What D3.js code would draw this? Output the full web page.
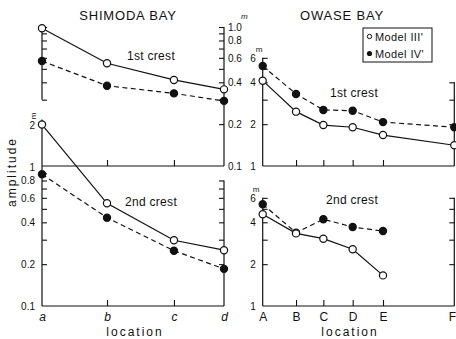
<!DOCTYPE html>
<html><head><meta charset="utf-8">
<script src="https://cdn.jsdelivr.net/npm/d3@7"></script>
<style>
body{margin:0;background:#fff;}
svg{font-family:"Liberation Sans",Arial,sans-serif;}
</style></head>
<body><svg id="c" width="456" height="339"></svg>
<script>
// ---- data ----
const shimodaLocs = ["a","b","c","d"];
const shimodaDist = [0, 1, 2.03, 2.8];
const owaseLocs = ["A","B","C","D","E","F"];
const owaseDist = [0, 1, 1.82, 2.7, 3.61, 5.75];

const shimoda1stIII = [0.98, 0.548, 0.416, 0.356];
const shimoda1stIV  = [0.569, 0.378, 0.333, 0.294];
const shimoda2ndIII = [2.02, 0.548, 0.297, 0.252];
const shimoda2ndIV  = [0.886, 0.432, 0.25, 0.185];

const owase1stIII = [4.11, 2.46, 1.97, 1.90, 1.67, 1.41];
const owase1stIV  = [5.24, 3.30, 2.53, 2.50, 2.07, 1.90];
const owase2ndIII = [4.57, 3.33, 3.05, 2.56, 1.66];
const owase2ndIV  = [5.39, 3.37, 4.21, 3.70, 3.46];

const shimodaTopTicks = [1.0, 0.8, 0.6, 0.4, 0.2, 0.1];
const shimodaBotTicks = [2, 1, 0.8, 0.6, 0.4, 0.2, 0.1];
const owaseTicks = [6, 4, 2, 1];
const seriesNames = ["Model III'", "Model IV'"];

// ---- drawing ----
const svg = d3.select("#c");
const DEC = 139;
const xL = d3.scaleLinear().domain([0, 2.8]).range([42, 224]);
const xR = d3.scaleLinear().domain([0, 5.75]).range([262.7, 454.3]);
const yTL = d3.scaleLog().domain([0.1, 1]).range([166, 166 - DEC]);
const yBL = d3.scaleLog().domain([0.1, 1]).range([306, 306 - DEC]);
const yTR = d3.scaleLog().domain([1, 10]).range([166, 166 - DEC]);
const yBR = d3.scaleLog().domain([1, 10]).range([306, 306 - DEC]);

const ink = "#111";
const FONT = "Liberation Sans, Arial, sans-serif";
function line(x1,y1,x2,y2){svg.append("line").attr("x1",x1).attr("y1",y1).attr("x2",x2).attr("y2",y2).attr("stroke",ink).attr("stroke-width",1.2);}

function vAxis(x, scale, v0, v1, tickVals, dir, labels, labelSide, labelFmt){
  line(x, scale(v0), x, scale(v1));
  const g = svg.append("g").attr("transform",`translate(${x},0)`)
    .call((dir==="right"?d3.axisRight(scale):d3.axisLeft(scale)).tickValues(tickVals).tickSize(5).tickFormat(""));
  g.select(".domain").remove();
  g.selectAll("line").attr("stroke",ink).attr("stroke-width",1.1);
  if(labels){
    const ax = labelSide==="right" ? d3.axisRight(scale) : d3.axisLeft(scale);
    const g2 = svg.append("g").attr("transform",`translate(${x},0)`)
      .call(ax.tickValues(labels).tickSize(0).tickPadding(labelSide==="right"?4:7).tickFormat(labelFmt));
    g2.select(".domain").remove();
    g2.selectAll("text").attr("font-size",10).attr("fill",ink).attr("font-family",FONT);
  }
}
function hAxis(y, xs, dists, ticksIdx, labels, italic){
  line(xs.range()[0], y, xs.range()[1], y);
  const g = svg.append("g").attr("transform",`translate(0,${y})`)
    .call(d3.axisTop(xs).tickValues(ticksIdx.map(i=>dists[i])).tickSize(6).tickFormat(""));
  g.select(".domain").remove();
  g.selectAll("line").attr("stroke",ink).attr("stroke-width",1.1);
  if(labels){
    const g2 = svg.append("g").attr("transform",`translate(0,${y})`)
      .call(d3.axisBottom(xs).tickValues(dists).tickSize(0).tickPadding(6).tickFormat((d,i)=>labels[i]));
    g2.select(".domain").remove();
    g2.selectAll("text").attr("font-size",12).attr("fill",ink).attr("font-family",FONT)
      .attr("font-style", italic ? "italic" : null);
    return g2;
  }
}
const f1 = d=> d===1 ? "1.0" : d.toFixed(1);
const f2 = d=> d===1 ? "1" : (d>=1 ? String(d) : d.toFixed(1));

// Shimoda top
vAxis(42, yTL, 1.0, 0.3, [0.3,0.4,0.5,0.6,0.7,0.8,0.9,1.0], "right");
vAxis(224, yTL, 1.0, 0.1, [0.2,0.3,0.4,0.5,0.6,0.7,0.8,0.9,1.0], "left", shimodaTopTicks, "right", f1);
hAxis(166, xL, shimodaDist, [1,2]);
// Shimoda bottom
vAxis(42, yBL, 2.2, 0.1, [0.2,0.3,0.4,0.5,0.6,0.7,0.8,0.9], "right", shimodaBotTicks, "left", f2);
vAxis(224, yBL, 0.8, 0.1, [0.2,0.3,0.4,0.5,0.6,0.7,0.8], "left");
hAxis(306, xL, shimodaDist, [1,2], shimodaLocs, true);
// Owase top
vAxis(262.7, yTR, 6, 1, [2,3,4,5,6], "right", owaseTicks, "left", f2);
vAxis(454.3, yTR, 4, 1, [2,3,4], "left");
hAxis(166, xR, owaseDist, [1,2,3,4]);
// Owase bottom
vAxis(262.7, yBR, 6, 1, [2,3,4,5,6], "right", owaseTicks, "left", f2);
vAxis(454.3, yBR, 6, 1, [2,3,4,5,6], "left");
const gBR = hAxis(306, xR, owaseDist, [1,2,3,4], owaseLocs, false);
gBR.selectAll("text").filter((d,i)=>i===owaseLocs.length-1).attr("dx",-2.5);

function series(xs, ys, dists, vals, dashed, filled){
  const pts = vals.map((v,i)=>[xs(dists[i]), ys(v)]);
  svg.append("path").attr("d", d3.line()(pts)).attr("fill","none").attr("stroke",ink)
    .attr("stroke-width",1.2).attr("stroke-dasharray", dashed ? "5,3.5" : null);
  svg.selectAll(null).data(pts).enter().append("circle")
    .attr("cx",d=>d[0]).attr("cy",d=>d[1]).attr("r",3.6)
    .attr("fill", filled?ink:"#fff").attr("stroke",ink).attr("stroke-width",1.2);
}
series(xL, yTL, shimodaDist, shimoda1stIV, true, true);
series(xL, yTL, shimodaDist, shimoda1stIII, false, false);
series(xL, yBL, shimodaDist, shimoda2ndIV, true, true);
series(xL, yBL, shimodaDist, shimoda2ndIII, false, false);
series(xR, yTR, owaseDist, owase1stIV, true, true);
series(xR, yTR, owaseDist, owase1stIII, false, false);
series(xR, yBR, owaseDist, owase2ndIV, true, true);
series(xR, yBR, owaseDist, owase2ndIII, false, false);

function txt(x,y,s,size,opts={}){
  const t = svg.append("text").attr("x",x).attr("y",y).text(s).attr("font-size",size).attr("fill",ink)
    .attr("font-family",FONT).attr("text-anchor",opts.anchor||"middle");
  if(opts.ls) t.attr("letter-spacing",opts.ls);
  if(opts.style) t.attr("font-style",opts.style);
  if(opts.rot) t.attr("transform",`rotate(${opts.rot},${x},${y})`);
  return t;
}
txt(128, 20, "SHIMODA BAY", 13, {ls:0.8});
txt(342, 20, "OWASE BAY", 13, {ls:0.8});
txt(151, 60, "1st crest", 12, {ls:0.3});
txt(354, 97, "1st crest", 12, {ls:0.3});
txt(151, 206, "2nd crest", 12, {ls:0.3});
txt(352, 204, "2nd crest", 12, {ls:0.3});
txt(135, 336, "location", 12, {ls:2});
txt(350, 336, "location", 12, {ls:2});
txt(16, 172, "amplitude", 12, {ls:2, rot:-90});
// units
txt(241, 19, "m", 8, {anchor:"start", style:"italic"});
txt(259, 52, "m", 8);
txt(256, 192, "m", 8);
txt(36, 116, "m", 8, {rot:-90});

// legend
svg.append("rect").attr("x",363).attr("y",28).attr("width",69).attr("height",34)
  .attr("fill","#fff").attr("stroke",ink).attr("stroke-width",1);
svg.append("circle").attr("cx",369.5).attr("cy",36.5).attr("r",2.2).attr("fill","#fff").attr("stroke",ink);
svg.append("circle").attr("cx",369.5).attr("cy",53.5).attr("r",2.6).attr("fill",ink);
txt(375, 40.5, seriesNames[0], 11, {anchor:"start", ls:0.4});
txt(375, 57.5, seriesNames[1], 11, {anchor:"start", ls:0.4});
</script></body></html>
